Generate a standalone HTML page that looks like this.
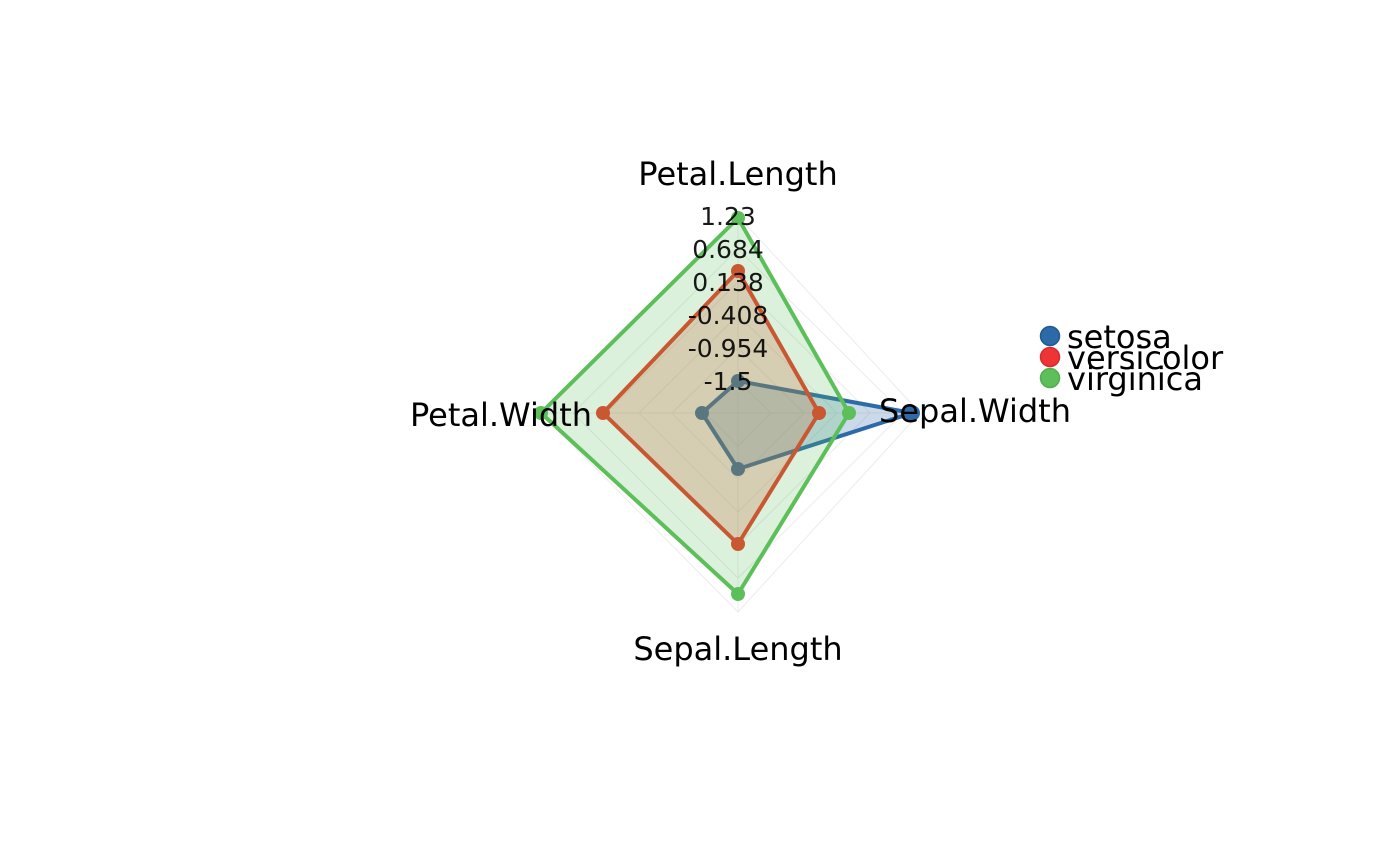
<!DOCTYPE html>
<html><head><meta charset="utf-8"><style>
html,body{margin:0;padding:0;background:#fff;}
svg{display:block;font-family:"DejaVu Sans","Liberation Sans",sans-serif;}
</style></head><body>
<svg width="1400" height="866" viewBox="0 0 1400 866" xmlns="http://www.w3.org/2000/svg">
<g fill="none" stroke="#ececec" stroke-width="1">
<polygon points="738,381 771,413 738,446 705,413"/>
<polygon points="738,348 804,413 738,479 672,413"/>
<polygon points="738,315 837,413 738,512 639,413"/>
<polygon points="738,282 870,413 738,545 606,413"/>
<polygon points="738,249 903,413 738,578 573,413"/>
<polygon points="738,216 920,413 738,612 541,413"/>
<line x1="738" y1="413" x2="738" y2="216"/>
<line x1="738" y1="413" x2="920" y2="413"/>
<line x1="738" y1="413" x2="738" y2="612"/>
<line x1="738" y1="413" x2="541" y2="413"/>
</g>
<polygon points="738,381 912,413 738,469 702,413" fill="rgba(44,106,168,0.25)" stroke="#2c6aa8" stroke-width="4" stroke-linejoin="round"/>
<g fill="#2c6aa8"><circle cx="738" cy="381" r="7"/><circle cx="912" cy="413" r="8"/><circle cx="738" cy="469" r="7"/><circle cx="702" cy="413" r="7"/></g>
<polygon points="738,271 819,413 738,544 603,413" fill="rgba(226,80,50,0.25)" stroke="#e83a26" stroke-width="4" stroke-linejoin="round"/>
<g fill="#e83a26"><circle cx="738" cy="271" r="7"/><circle cx="819" cy="413" r="7"/><circle cx="738" cy="544" r="7"/><circle cx="603" cy="413" r="7"/></g>
<polygon points="738,218 849,413 738,594 541,413" fill="rgba(92,191,90,0.22)" stroke="#5cbf5a" stroke-width="4" stroke-linejoin="round"/>
<g fill="#5cbf5a"><circle cx="738" cy="218" r="7"/><circle cx="849" cy="413" r="7"/><circle cx="738" cy="594" r="7"/><circle cx="541" cy="413" r="7"/></g>
<g font-size="25" fill="#000" fill-opacity="0.9" text-anchor="middle">
<text x="728" y="225">1.23</text>
<text x="728" y="258">0.684</text>
<text x="728" y="291">0.138</text>
<text x="728" y="324">-0.408</text>
<text x="728" y="357">-0.954</text>
<text x="728" y="390">-1.5</text>
</g>
<g font-size="32" fill="#000">
<text x="738" y="185" text-anchor="middle">Petal.Length</text>
<text x="738" y="660" text-anchor="middle">Sepal.Length</text>
<text x="501" y="426" text-anchor="middle">Petal.Width</text>
<text x="975" y="422" text-anchor="middle">Sepal.Width</text>
</g>
<g font-size="32" fill="#000">
<circle cx="1050" cy="336" r="9.5" fill="#2c6aa8" stroke="#1f5a96" stroke-width="1.5"/>
<text x="1067" y="348">setosa</text>
<circle cx="1050" cy="357" r="9.5" fill="#ee3434" stroke="#d82a2a" stroke-width="1.5"/>
<text x="1067" y="369">versicolor</text>
<circle cx="1050" cy="378" r="9.5" fill="#5cbf5a" stroke="#4eb04c" stroke-width="1.5"/>
<text x="1067" y="390">virginica</text>
</g>
</svg>
</body></html>
